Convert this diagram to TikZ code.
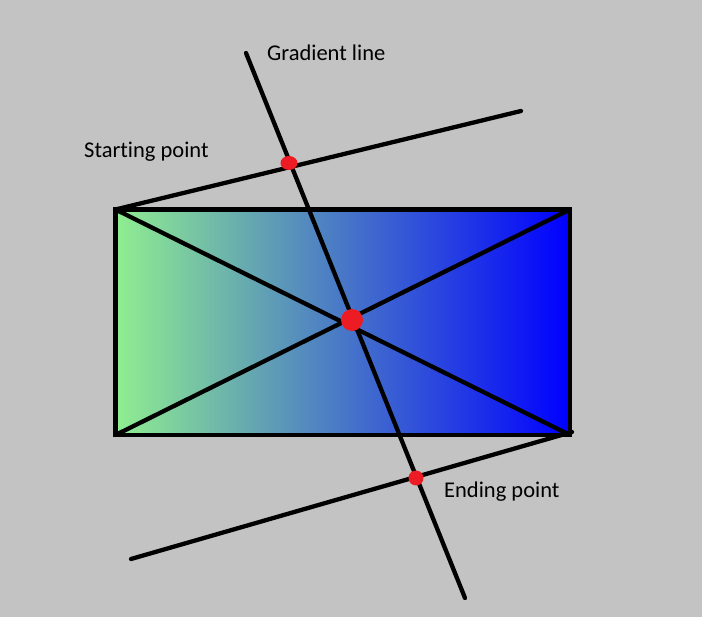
\documentclass[tikz,border=0pt]{standalone}
\usepackage{fontspec}
\setmainfont{Carlito}[Ligatures=CommonOff]
\definecolor{bg}{RGB}{195,195,195}
\definecolor{lgreen}{RGB}{144,238,144}
\definecolor{pblue}{RGB}{0,0,255}
\definecolor{pred}{RGB}{237,28,36}
\begin{document}
\begin{tikzpicture}[x=1pt,y=-1pt,
  blk/.style={line width=4.3pt,black,line cap=round},
  lbl/.style={anchor=base west,inner sep=0pt,font=\fontsize{22.5}{26}\selectfont},
  dot/.style={fill=pred}]
\fill[bg] (0,0) rectangle (702,617);
\useasboundingbox (0,0) rectangle (702,617);
\coordinate (tl) at (115.5,209.5);
\coordinate (tr) at (570,209.5);
\coordinate (br) at (570,435);
\coordinate (bl) at (115.5,435);
\coordinate (gtop) at (246,53);
\coordinate (gbot) at (465,598);
\coordinate (uend) at (521,111);
\coordinate (lend) at (131,559);
\coordinate (cbr) at (572,432);
\shade[left color=lgreen,right color=pblue] (tl) rectangle (br);
\draw[blk,line join=miter,line cap=butt] (tl) rectangle (br);
\draw[blk] (tl) -- (br);
\draw[blk] (bl) -- (tr);
\draw[blk] (tl) -- (uend);
\draw[blk] (lend) -- (cbr);
\draw[blk] (gtop) -- (gbot);
\fill[dot] (289,163) ellipse (8.5 and 7);
\fill[dot] (352,320) ellipse (11 and 11);
\fill[dot] (416,478) ellipse (7.5 and 7.5);
\node[lbl] (g) at (267,61) {Gradient line};
\node[lbl] (s) at (84,158) {Starting point};
\node[lbl] (e) at (444,498) {Ending point};
\end{tikzpicture}
\end{document}
